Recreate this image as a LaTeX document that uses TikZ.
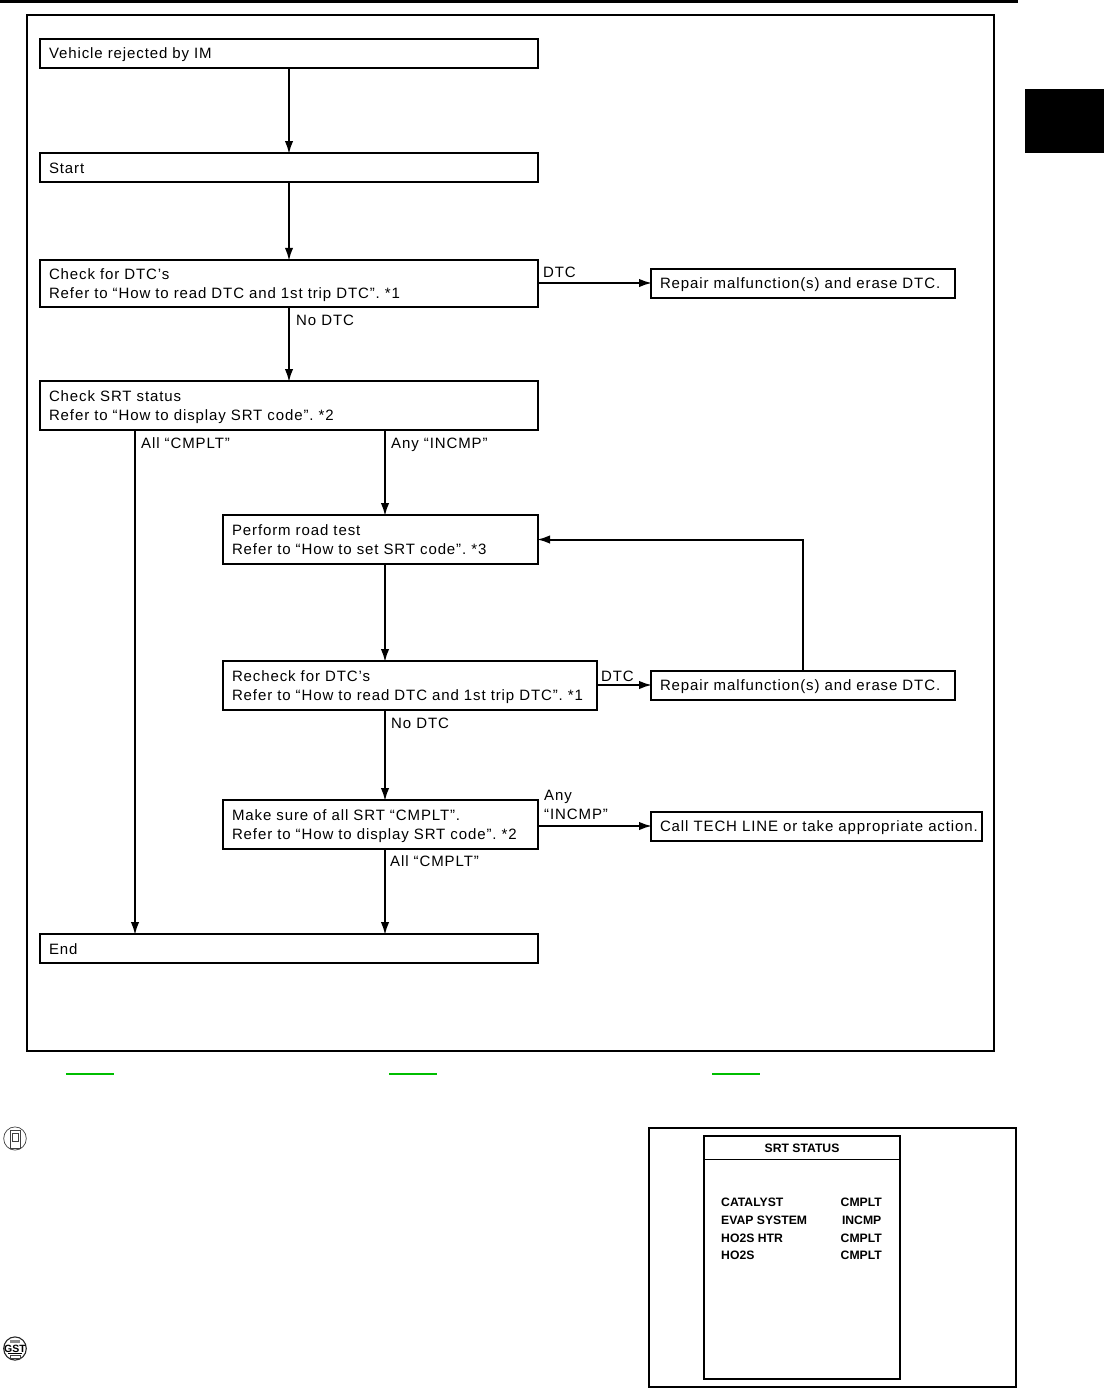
\documentclass[tikz,border=0pt]{standalone}
\usepackage{fontspec}
\setmainfont[LetterSpace=6]{Liberation Sans}
\newfontfamily\scrfont{Liberation Sans}
\usetikzlibrary{arrows.meta,calc}
\definecolor{linkgreen}{RGB}{0,190,0}
\newcommand{\ls}{\rule[-4pt]{0pt}{19pt}}
\tikzset{
  x=1pt,y=-1pt,
  flow/.style={draw=black,line width=2pt,rectangle,outer sep=0pt,inner xsep=9pt,inner ysep=0pt,anchor=center,align=left,font=\fontsize{15pt}{19pt}\selectfont\frenchspacing,text=black},
  arr/.style={line width=2pt,shorten >=-1pt,-{Latex[length=13pt,width=8.5pt]}},
  lab/.style={inner sep=0pt,anchor=west,align=left,font=\fontsize{15pt}{19pt}\selectfont\frenchspacing},
  scr/.style={inner sep=0pt,font=\scrfont\bfseries\fontsize{12.2pt}{14pt}\selectfont},
  frame/.style={draw=black,line width=2pt},
  link/.style={draw=linkgreen,line width=2pt}
}
\begin{document}
\begin{tikzpicture}
\useasboundingbox (0,0) rectangle (1104,1389);
% page furniture
\fill[black] (0,0) rectangle (1018,3);
\fill[black] (1025,89) rectangle (1104,153);
\draw[frame] (27,15) rectangle (994,1051);
% boxes
\node[flow,text width=480pt,minimum height=29pt] (veh) at (289,53.5) {\ls Vehicle rejected by IM};
\node[flow,text width=480pt,minimum height=29pt] (start) at (289,167.5) {\ls Start};
\node[flow,text width=480pt,minimum height=47.5pt] (dtc) at (289,283.5) {\ls Check for DTC’s\\\ls Refer to “How to read DTC and 1st trip DTC”. *1};
\node[flow,text width=286pt,minimum height=29pt] (rep1) at (803,283) {\ls Repair malfunction(s) and erase DTC.};
\node[flow,text width=480pt,minimum height=49pt] (srt) at (289,405.5) {\ls Check SRT status\\\ls Refer to “How to display SRT code”. *2};
\node[flow,text width=297pt,minimum height=49pt] (road) at (380.5,539.5) {\ls Perform road test\\\ls Refer to “How to set SRT code”. *3};
\node[flow,text width=356pt,minimum height=49pt] (re) at (410,685.5) {\ls Recheck for DTC’s\\\ls Refer to “How to read DTC and 1st trip DTC”. *1};
\node[flow,text width=286pt,minimum height=29pt] (rep2) at (803,685) {\ls Repair malfunction(s) and erase DTC.};
\node[flow,text width=297pt,minimum height=49pt] (make) at (380.5,824.5) {\ls Make sure of all SRT “CMPLT”.\\\ls Refer to “How to display SRT code”. *2};
\node[flow,text width=313pt,minimum height=29pt] (call) at (816.5,826) {\mbox{\ls Call TECH LINE or take appropriate action.}};
\node[flow,text width=480pt,minimum height=29pt] (end) at (289,948.5) {\ls End};
\coordinate (xa) at (135,0);
\coordinate (xb) at (385,0);
% connectors
\draw[arr] (veh.south) -- (start.north);
\draw[arr] (start.south) -- (dtc.north);
\draw[arr] (dtc.south) -- (srt.north);
\draw[arr] (dtc.east |- rep1.west) -- (rep1.west);
\draw[arr] (srt.south -| xa) -- (end.north -| xa);
\draw[arr] (srt.south -| xb) -- (road.north -| xb);
\draw[arr] (road.south -| xb) -- (re.north -| xb);
\draw[arr] (re.south -| xb) -- (make.north -| xb);
\draw[arr] (make.south -| xb) -- (end.north -| xb);
\draw[arr] (re.east |- rep2.west) -- (rep2.west);
\draw[arr] (rep2.north) |- (road.east);
\draw[arr] (make.east |- call.west) -- (call.west);
% connector labels
\node[lab] (l1) at (543,272) {\ls DTC};
\node[lab] (l2) at (296,319.5) {\ls No DTC};
\node[lab] (l3) at (141,442.5) {\ls All “CMPLT”};
\node[lab] (l4) at (391,442.5) {\ls Any “INCMP”};
\node[lab] (l5) at (601,675.5) {\ls DTC};
\node[lab] (l6) at (391,722.5) {\ls No DTC};
\node[lab] (l7) at (544,804) {\ls Any\\\ls “INCMP”};
\node[lab] (l8) at (390,860.5) {\ls All “CMPLT”};
% green link rules
\draw[link] (66,1074) -- (114,1074);
\draw[link] (389,1074) -- (437,1074);
\draw[link] (712,1074) -- (760,1074);
% icons
\draw[line width=0.7pt,black!75] (15,1138.5) ellipse[x radius=11.3pt,y radius=11.6pt];
\draw[line width=0.7pt,black!75] (10,1130) rectangle (20,1148);
\draw[line width=0.7pt,black!75] (12,1133) rectangle (18,1141);
\draw[line width=1.1pt,black!85] (15,1348.5) ellipse[x radius=11.3pt,y radius=11.6pt];
\fill[black!45] (10,1339.5) rectangle (20,1343);
\draw[line width=0.8pt] (8,1353.5) -- (22,1353.5);
\draw[line width=0.7pt,black!75] (10,1355) rectangle (20,1358);
\node[inner sep=0pt,font=\scrfont\bfseries\fontsize{10.5pt}{11pt}\selectfont] (gst) at (15,1348.5) {GST};
% screen
\draw[frame] (649,1128) rectangle (1016,1387);
\draw[frame] (704,1136) rectangle (900,1379);
\draw[line width=1pt] (704,1159) -- (900,1159);
\node[scr] (t0) at (802,1148.5) {SRT STATUS};
\node[scr,anchor=west] (a1) at (721,1202) {CATALYST};
\node[scr,anchor=west] (a2) at (721,1220) {EVAP SYSTEM};
\node[scr,anchor=west] (a3) at (721,1238) {HO2S HTR};
\node[scr,anchor=west] (a4) at (721,1255.5) {HO2S};
\node[scr,anchor=east] (b1) at (882,1202) {CMPLT};
\node[scr,anchor=east] (b2) at (881.5,1220) {INCMP};
\node[scr,anchor=east] (b3) at (882,1238) {CMPLT};
\node[scr,anchor=east] (b4) at (882,1255.5) {CMPLT};
\end{tikzpicture}
\end{document}
